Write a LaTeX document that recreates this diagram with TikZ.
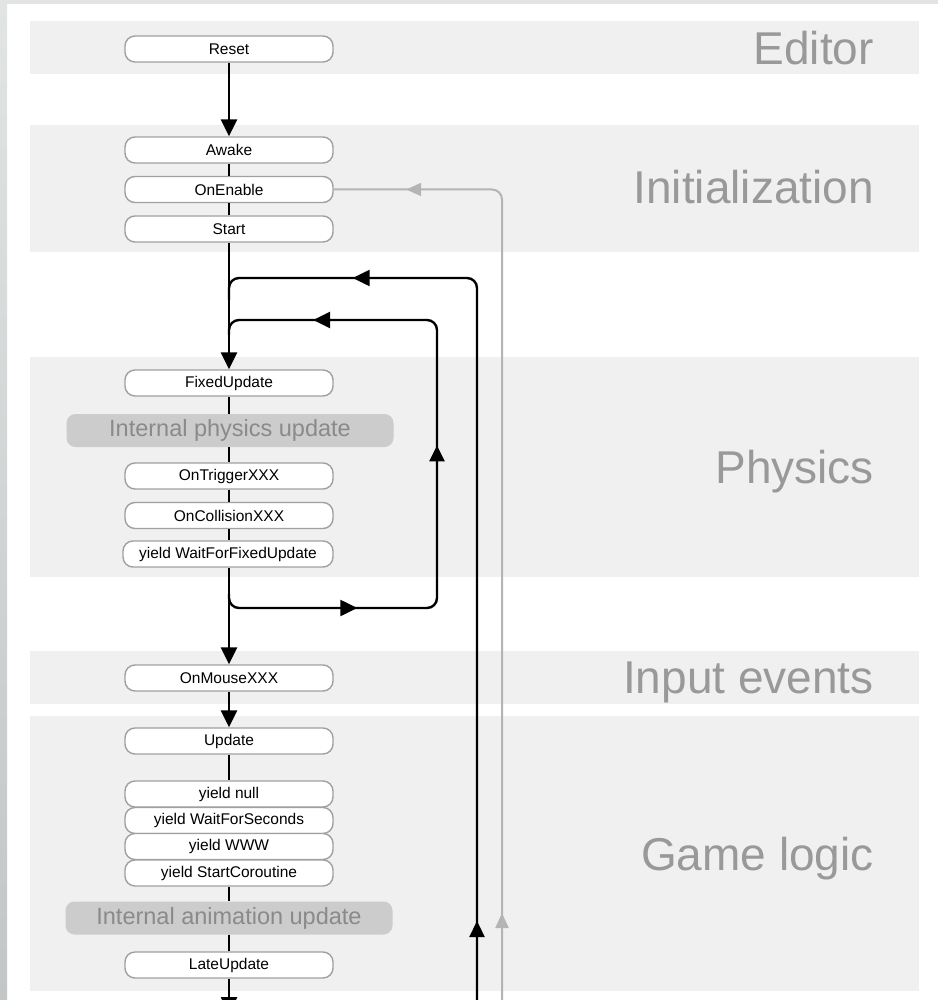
\documentclass[tikz,border=0pt]{standalone}
\usepackage{fontspec}
\setmainfont{Liberation Sans}
\usetikzlibrary{arrows.meta,decorations.markings}
\definecolor{bandfill}{HTML}{F0F0F0}
\definecolor{labelgray}{HTML}{999999}
\definecolor{nodeborder}{HTML}{A0A0A0}
\definecolor{internalfill}{HTML}{CCCCCC}
\definecolor{internaltext}{HTML}{8A8A8A}
\definecolor{loopgray}{HTML}{B4B4B4}
\definecolor{frametop}{HTML}{E2E4E4}
\definecolor{framebot}{HTML}{C2C6C6}
\tikzset{
  band/.style={fill=bandfill, draw=none},
  bandlabel/.style={anchor=base east, text=labelgray, inner sep=0pt, font=\fontsize{46}{50}\selectfont},
  event/.style={draw=nodeborder, line width=1.4pt, fill=white, rounded corners=10pt,
    minimum width=208pt, minimum height=26pt, inner sep=0pt, font=\fontsize{15.5}{18}\selectfont},
  internal/.style={fill=internalfill, draw=none, rounded corners=9pt, text=internaltext,
    minimum width=327pt, minimum height=33pt, inner sep=0pt, font=\fontsize{23.5}{26}\selectfont},
  flow/.style={draw=black, line width=2.6pt},
  flowarrow/.style={flow, -{Triangle[length=17pt,width=16pt]}},
  loopline/.style={draw=black, line width=2.4pt, rounded corners=10pt},
  grayline/.style={draw=loopgray, line width=2pt, rounded corners=10pt},
}
\begin{document}
\begin{tikzpicture}[x=1pt,y=-1pt]
\useasboundingbox (0,0) rectangle (938,1000);
\clip (0,0) rectangle (938,1000);
% frame
\fill[white] (0,0) rectangle (938,1000);
\fill[frametop] (0,0) rectangle (938,4);
\shade[top color=frametop, bottom color=framebot] (0,0) rectangle (7,1000);
% bands
\path[band] (30,21) rectangle (919,74);
\path[band] (30,125) rectangle (919,252);
\path[band] (30,357) rectangle (919,577);
\path[band] (30,651) rectangle (919,704);
\path[band] (30,716) rectangle (919,991);
% band labels
\node[bandlabel] (lEditor) at (874,65) {Editor};
\node[bandlabel] (lInit) at (874,204) {Initialization};
\node[bandlabel] (lPhys) at (874,483) {Physics};
\node[bandlabel] (lInput) at (874,693) {Input events};
\node[bandlabel] (lGame) at (874,870) {Game logic};
% coordinates for loops
\coordinate (next) at (229,1014);
\coordinate (outerStart) at (477,1010);
\coordinate (grayStart) at (502,1010);
\coordinate (innerStart) at (229,594);
\coordinate (innerEnd) at (229,335);
\coordinate (outerEnd) at (229,300);
% connectors drawn below the nodes
\draw[loopline, postaction={decorate}, decoration={markings,
    mark=at position 89pt with {\arrow{Triangle[length=16pt,width=15pt]}},
    mark=at position 852pt with {\arrow{Triangle[length=17pt,width=16pt]}}}]
  (outerStart) -- (477,278) -- (229,278) -- (outerEnd);
\draw[loopline, postaction={decorate}, decoration={markings,
    mark=at position 138pt with {\arrow{Triangle[length=17pt,width=16pt]}},
    mark=at position 376pt with {\arrow{Triangle[length=16pt,width=15pt]}},
    mark=at position 621pt with {\arrow{Triangle[length=17pt,width=16pt]}}}]
  (innerStart) -- (229,608) -- (437,608) -- (437,320) -- (229,320) -- (innerEnd);
% nodes
\node[event] (reset) at (229,49) {Reset};
\node[event] (awake) at (229,150) {Awake};
\node[event] (onenable) at (229,189.5) {OnEnable};
\node[event] (start) at (229,229) {Start};
\node[event] (fixed) at (229,383) {FixedUpdate};
\node[internal] (iphys) at (230,430.5) {Internal physics update};
\node[event] (trigger) at (229,476) {OnTriggerXXX};
\node[event] (collision) at (229,515.5) {OnCollisionXXX};
\node[event, minimum width=210pt] (wffu) at (228,554) {yield WaitForFixedUpdate};
\node[event] (mouse) at (229,678) {OnMouseXXX};
\node[event] (update) at (229,741) {Update};
\node[event] (ynull) at (229,794) {yield null};
\node[event] (ywfs) at (229,820.5) {yield WaitForSeconds};
\node[event] (ywww) at (229,846.5) {yield WWW};
\node[event] (ysc) at (229,873) {yield StartCoroutine};
\node[internal] (ianim) at (229,918) {Internal animation update};
\node[event] (late) at (229,965) {LateUpdate};
% main flow
\draw[flowarrow] (reset.south) -- (awake.north);
\draw[flow] (awake.south) -- (onenable.north);
\draw[flow] (onenable.south) -- (start.north);
\draw[flowarrow] (start.south) -- (fixed.north);
\draw[flow] (fixed.south) -- (iphys.north -| fixed.south);
\draw[flow] (iphys.south -| trigger.north) -- (trigger.north);
\draw[flow] (trigger.south) -- (collision.north);
\draw[flow] (collision.south) -- (wffu.north -| collision.south);
\draw[flowarrow] (wffu.south -| mouse.north) -- (mouse.north);
\draw[flowarrow] (mouse.south) -- (update.north);
\draw[flow] (update.south) -- (ynull.north);
\draw[flow] (ysc.south) -- (ianim.north -| ysc.south);
\draw[flow] (ianim.south -| late.north) -- (late.north);
\draw[flowarrow] (late.south) -- (next);
% gray return to OnEnable
\draw[grayline, postaction={decorate}, decoration={markings,
    mark=at position 97pt with {\arrow[loopgray]{Triangle[length=15pt,width=13pt]}},
    mark=at position 912pt with {\arrow[loopgray]{Triangle[length=15pt,width=13pt]}}}]
  (grayStart) -- (502,189.5) -- (onenable.east);
\end{tikzpicture}
\end{document}
